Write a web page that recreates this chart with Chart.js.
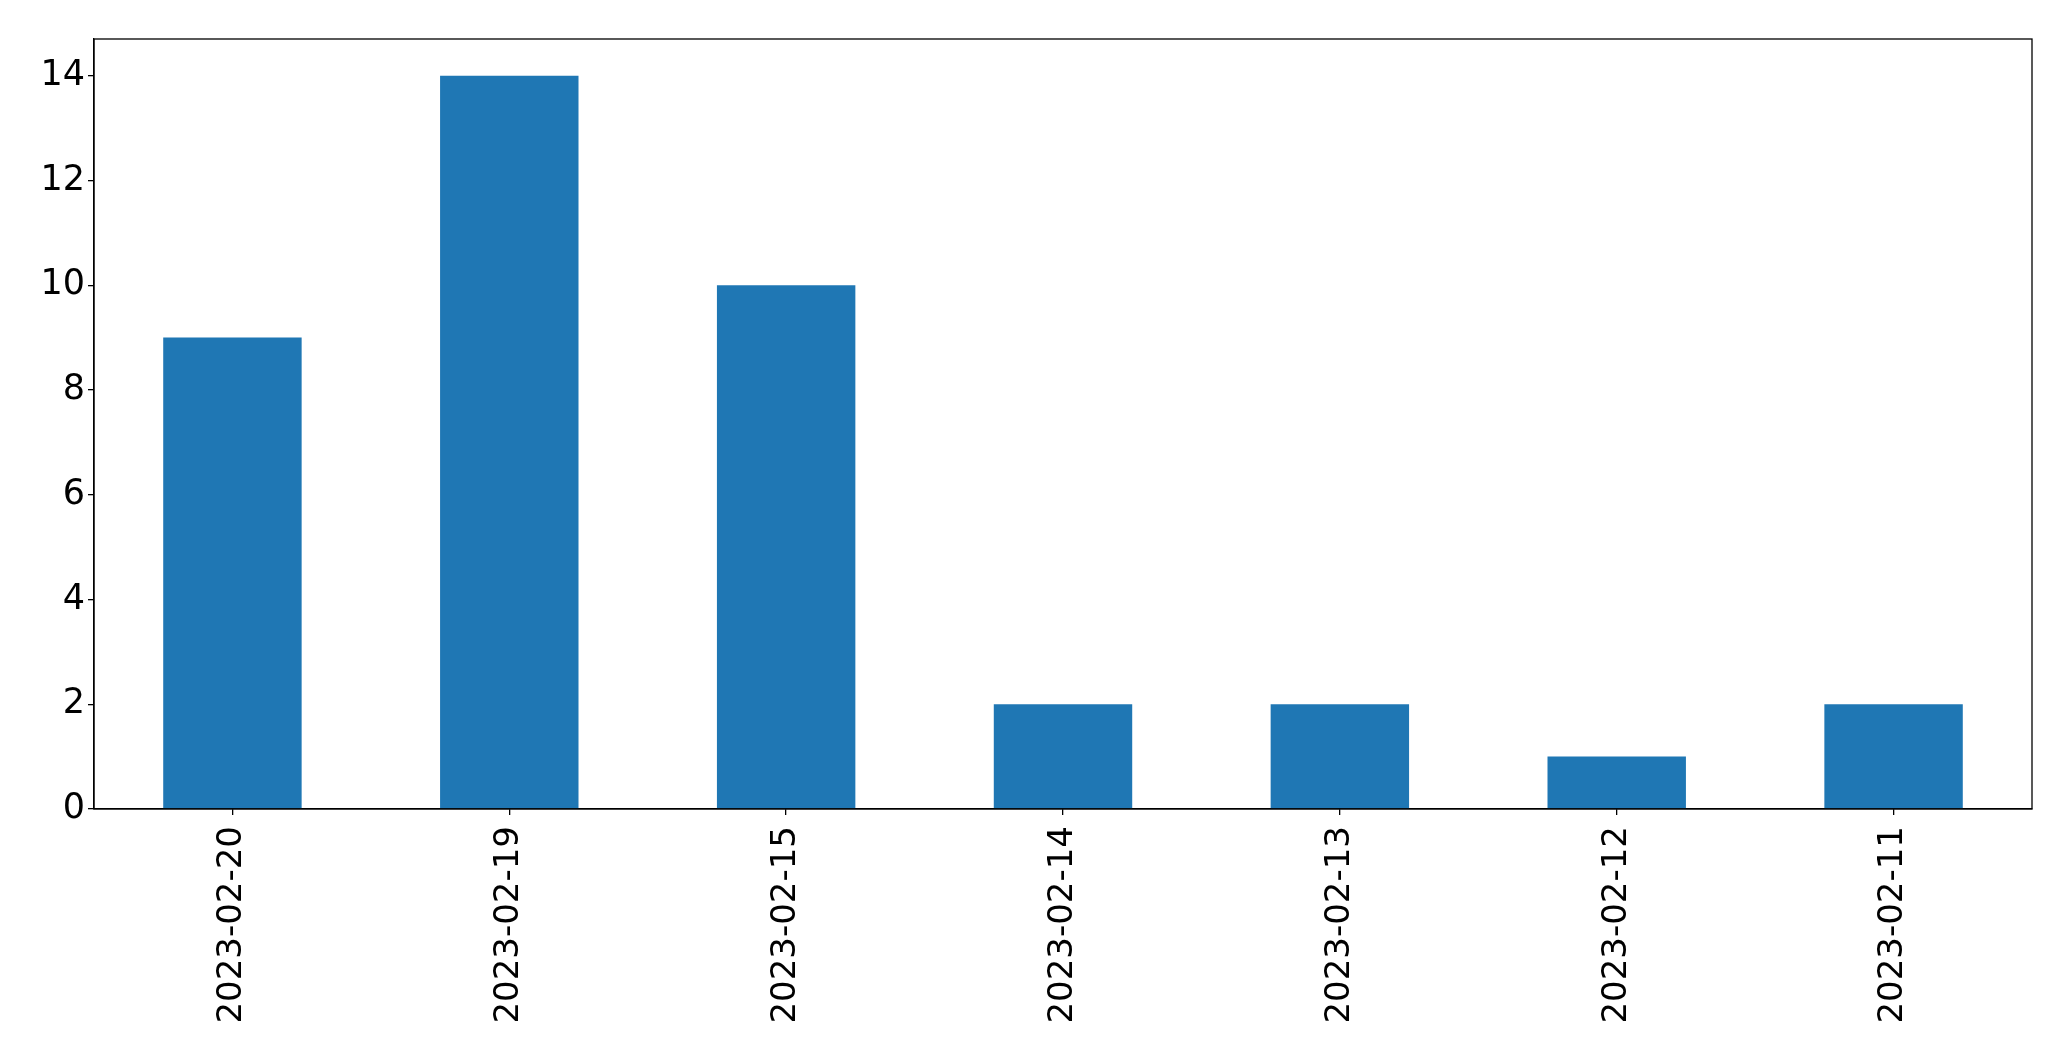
<!DOCTYPE html>
<html>
<head>
<meta charset="utf-8">
<script src="https://cdn.jsdelivr.net/npm/chart.js@4.4.1/dist/chart.umd.min.js"></script>
<style>
html,body{margin:0;padding:0;background:#fff;}
#wrap{width:2071px;height:1061px;position:relative;}
</style>
</head>
<body>
<div id="wrap"><canvas id="c" width="2071" height="1061"></canvas></div>
<script>
const categories = ["2023-02-20","2023-02-19","2023-02-15","2023-02-14","2023-02-13","2023-02-12","2023-02-11"];
const counts = [9, 14, 10, 2, 2, 1, 2];
const yTicks = [0, 2, 4, 6, 8, 10, 12, 14];
const yMax = 14.7;

const frame = {
  id: 'frame',
  afterDraw(chart) {
    const a = chart.chartArea, ctx = chart.ctx;
    ctx.save();
    ctx.strokeStyle = '#000';
    ctx.lineWidth = 1.3;
    ctx.strokeRect(a.left, a.top, a.right - a.left, a.bottom - a.top);
    ctx.restore();
  }
};

new Chart(document.getElementById('c'), {
  type: 'bar',
  data: {
    labels: categories,
    datasets: [{
      data: counts,
      backgroundColor: '#1f77b4',
      borderWidth: 0,
      barPercentage: 0.5,
      categoryPercentage: 1.0
    }]
  },
  options: {
    responsive: false,
    animation: false,
    devicePixelRatio: 1,
    layout: { padding: { top: 39, right: 39, left: 0, bottom: 0 } },
    plugins: { legend: { display: false }, tooltip: { enabled: false } },
    scales: {
      x: {
        offset: true,
        grid: { display: true, drawOnChartArea: false, drawTicks: true, tickLength: 6, color: '#000', lineWidth: 1.3, offset: false },
        border: { display: true, color: '#000', width: 1.3 },
        ticks: { color: '#000', font: { family: 'DejaVu Sans', size: 34 }, minRotation: 90, maxRotation: 90, padding: 11, autoSkip: false },
        afterFit(scale) { scale.height = 1061 - 809; }
      },
      y: {
        min: 0,
        max: yMax,
        grid: { display: true, drawOnChartArea: false, drawTicks: true, tickLength: 6, color: '#000', lineWidth: 1.3 },
        border: { display: true, color: '#000', width: 1.3 },
        ticks: { color: '#000', font: { family: 'DejaVu Sans', size: 35 }, padding: 3 },
        afterBuildTicks(scale) { scale.ticks = yTicks.map(v => ({ value: v })); },
        afterFit(scale) { scale.width = 94; }
      }
    }
  },
  plugins: [frame]
});
</script>
</body>
</html>
